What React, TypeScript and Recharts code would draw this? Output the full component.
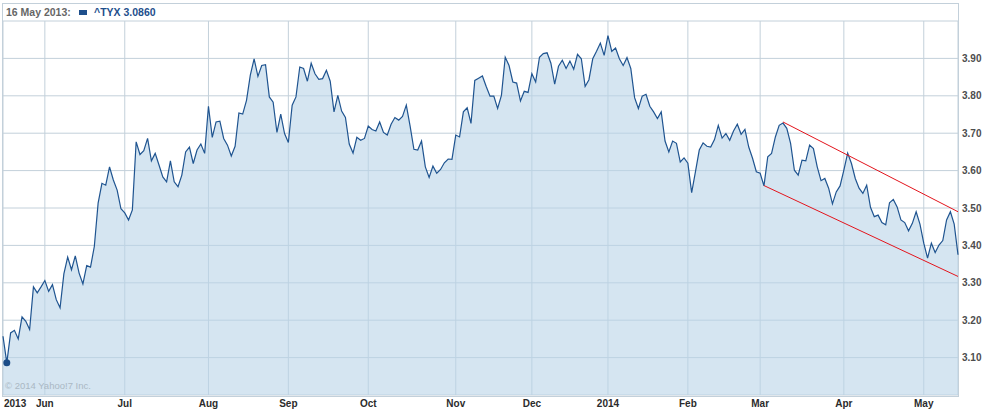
import {
  Area,
  CartesianGrid,
  ComposedChart,
  Line,
  ReferenceDot,
  ReferenceLine,
  XAxis,
  YAxis,
} from "recharts";

// ^TYX daily closes, one value per trading day, grouped by month
const MAY_2013 = [3.157, 3.086, 3.166, 3.173, 3.15, 3.209, 3.197, 3.175, 3.289, 3.273, 3.289];
const JUN_2013 = [
  3.306, 3.277, 3.295, 3.255, 3.233, 3.324, 3.369, 3.335, 3.372, 3.326, 3.297, 3.346, 3.342, 3.397, 3.513,
  3.566, 3.561, 3.61, 3.575, 3.548, 3.498,
];
const JUL_2013 = [
  3.487, 3.468, 3.495, 3.677, 3.643, 3.653, 3.686, 3.626, 3.646, 3.615, 3.583, 3.57, 3.626, 3.57, 3.557,
  3.588, 3.65, 3.663, 3.619, 3.655, 3.671, 3.646,
];
const AUG_2013 = [
  3.772, 3.689, 3.73, 3.732, 3.686, 3.668, 3.639, 3.665, 3.754, 3.751, 3.788, 3.855, 3.899, 3.852, 3.881,
  3.883, 3.797, 3.783, 3.702, 3.751, 3.699,
];
const SEP_2013 = [
  3.675, 3.775, 3.797, 3.877, 3.873, 3.839, 3.887, 3.859, 3.844, 3.846, 3.868, 3.839, 3.757, 3.801, 3.759,
  3.742, 3.671, 3.647, 3.689, 3.681, 3.686,
];
const OCT_2013 = [
  3.719, 3.71, 3.706, 3.73, 3.702, 3.695, 3.724, 3.742, 3.735, 3.745, 3.775, 3.719, 3.657, 3.655, 3.679,
  3.61, 3.582, 3.612, 3.593, 3.603, 3.621, 3.631, 3.63,
];
const NOV_2013 = [
  3.695, 3.69, 3.757, 3.768, 3.726, 3.841, 3.847, 3.853, 3.825, 3.799, 3.799, 3.766, 3.801, 3.903, 3.881,
  3.837, 3.834, 3.786, 3.812, 3.809,
];
const DEC_2013 = [
  3.859, 3.837, 3.903, 3.913, 3.915, 3.887, 3.831, 3.879, 3.895, 3.873, 3.893, 3.871, 3.911, 3.899, 3.825,
  3.843, 3.899, 3.919, 3.941, 3.908,
];
const JAN_2014 = [
  3.961, 3.919, 3.928, 3.899, 3.881, 3.902, 3.873, 3.795, 3.766, 3.799, 3.804, 3.772, 3.757, 3.739, 3.757,
  3.679, 3.65, 3.679, 3.673, 3.623, 3.634,
];
const FEB_2014 = [
  3.62, 3.541, 3.597, 3.655, 3.674, 3.665, 3.663, 3.683, 3.721, 3.687, 3.699, 3.681, 3.706, 3.724, 3.697,
  3.71, 3.663, 3.633, 3.597,
];
const MAR_2014 = [
  3.593, 3.559, 3.637, 3.646, 3.69, 3.721, 3.727, 3.713, 3.673, 3.601, 3.588, 3.628, 3.626, 3.668, 3.659,
  3.61, 3.573, 3.579, 3.553, 3.511, 3.543, 3.559,
];
const APR_2014 = [
  3.601, 3.647, 3.619, 3.579, 3.553, 3.539, 3.561, 3.502, 3.477, 3.481, 3.461, 3.455, 3.514, 3.523, 3.503,
  3.468, 3.461, 3.439, 3.459, 3.49, 3.457,
];
const MAY_2014 = [3.406, 3.366, 3.406, 3.381, 3.401, 3.413, 3.468, 3.49, 3.457, 3.375];

// first trading day of each month (index into the series) and its label
const TICK_INDEX = [0, 11, 32, 54, 75, 96, 119, 139, 159, 180, 199, 221, 242];
const TICK_LABELS = ["2013", "Jun", "Jul", "Aug", "Sep", "Oct", "Nov", "Dec", "2014", "Feb", "Mar", "Apr", "May"];

const Y_TICKS = [3.0, 3.1, 3.2, 3.3, 3.4, 3.5, 3.6, 3.7, 3.8, 3.9, 4.0];

// hand-drawn channel (index, value)
const CHANNEL_UPPER = [
  { x: 205, y: 3.73 },
  { x: 251, y: 3.49 },
];
const CHANNEL_LOWER = [
  { x: 200, y: 3.56 },
  { x: 251, y: 3.317 },
];

const HOVER_INDEX = 1;

const SERIES = [
  ...MAY_2013,
  ...JUN_2013,
  ...JUL_2013,
  ...AUG_2013,
  ...SEP_2013,
  ...OCT_2013,
  ...NOV_2013,
  ...DEC_2013,
  ...JAN_2014,
  ...FEB_2014,
  ...MAR_2014,
  ...APR_2014,
  ...MAY_2014,
];
const rows = SERIES.map((v, i) => ({ i, v }));

const FONT = "'Liberation Sans', Arial, sans-serif";
const GRID = "#c3d0da";
const LINE = "#1f5490";

function MonthTick({ x, y, payload }: any) {
  const pos = TICK_INDEX.indexOf(payload.value);
  const first = pos === 0;
  return (
    <text
      x={first ? x + 1 : x}
      y={y + 12}
      textAnchor={first ? "start" : "middle"}
      fontSize={10}
      fontWeight="bold"
      fontFamily={FONT}
      fill="#2b2b2b"
    >
      {TICK_LABELS[pos]}
    </text>
  );
}

function RateTick({ x, y, payload }: any) {
  if (payload.value <= 3.0 || payload.value >= 4.0) return <g />;
  return (
    <text x={x} y={y} dy={3.5} textAnchor="start" fontSize={10} fontWeight="bold" fontFamily={FONT} fill="#4d4d4d">
      {payload.value.toFixed(2)}
    </text>
  );
}

export default function App() {
  return (
    <div style={{ position: "relative", width: 988, height: 413, fontFamily: FONT, background: "#fff" }}>
      <style>{`body{margin:0}`}</style>
      <div
        style={{
          position: "absolute",
          left: 2,
          top: 3,
          width: 955,
          height: 392,
          border: `1px solid ${GRID}`,
        }}
      />
      <div style={{ position: "absolute", left: 0, top: 0 }}>
        <ComposedChart width={988} height={413} data={rows} margin={{ top: 21, right: 0, bottom: 0, left: 3 }}>
          <CartesianGrid stroke={GRID} />
          <XAxis
            type="number"
            dataKey="i"
            domain={[0, SERIES.length - 1]}
            ticks={TICK_INDEX}
            interval={0}
            height={18}
            axisLine={false}
            tickLine={false}
            tickSize={0}
            tickMargin={0}
            tick={<MonthTick />}
          />
          <YAxis
            orientation="right"
            domain={[3.0, 4.0]}
            ticks={Y_TICKS}
            interval={0}
            width={30}
            axisLine={false}
            tickLine={false}
            tickSize={0}
            tickMargin={4}
            tick={<RateTick />}
          />
          <Area
            type="linear"
            dataKey="v"
            stroke="none"
            fill="#b9d4e8"
            fillOpacity={0.6}
            baseValue={3.0}
            isAnimationActive={false}
          />
          <Line
            type="linear"
            dataKey="v"
            stroke={LINE}
            strokeWidth={1.2}
            dot={false}
            activeDot={false}
            isAnimationActive={false}
          />
          <ReferenceLine segment={CHANNEL_UPPER} stroke="#e3141c" strokeWidth={1} />
          <ReferenceLine segment={CHANNEL_LOWER} stroke="#e3141c" strokeWidth={1} />
          <ReferenceDot x={HOVER_INDEX} y={SERIES[HOVER_INDEX]} r={3.5} fill="#1c4d88" stroke="none" />
        </ComposedChart>
      </div>
      <div
        style={{
          position: "absolute",
          left: 6,
          top: 5,
          fontSize: 10.5,
          lineHeight: "14px",
          fontWeight: "bold",
          color: "#666",
          whiteSpace: "nowrap",
        }}
      >
        16 May 2013:
      </div>
      <div style={{ position: "absolute", left: 79, top: 10, width: 8, height: 5, background: "#1e4f8c" }} />
      <div
        style={{
          position: "absolute",
          left: 94,
          top: 5,
          fontSize: 10.5,
          lineHeight: "14px",
          fontWeight: "bold",
          color: "#1e4f8c",
          whiteSpace: "nowrap",
        }}
      >
        ^TYX {SERIES[HOVER_INDEX].toFixed(4)}
      </div>
      <div
        style={{
          position: "absolute",
          left: 5,
          top: 380,
          fontSize: 9.5,
          lineHeight: "11px",
          color: "#aab8c4",
          whiteSpace: "nowrap",
        }}
      >
        © 2014 Yahoo!7 Inc.
      </div>
    </div>
  );
}
